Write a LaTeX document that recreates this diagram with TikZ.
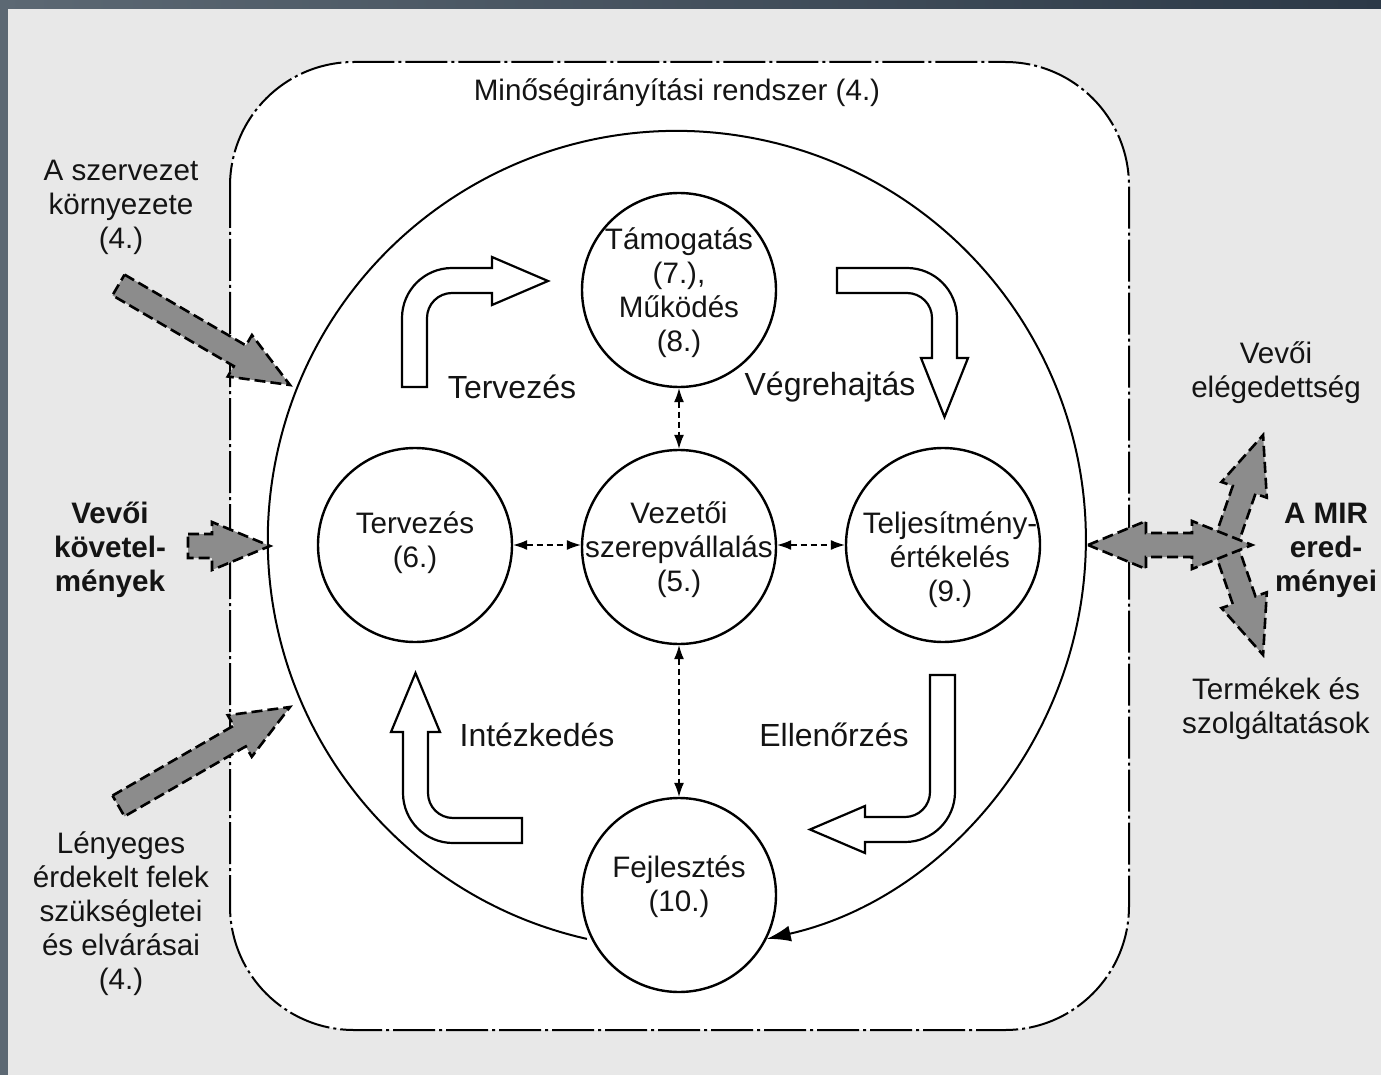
\documentclass[tikz,border=0pt]{standalone}
\usepackage{fontspec}
\setmainfont{Liberation Sans}
\usetikzlibrary{arrows.meta}
\definecolor{bgc}{RGB}{232,232,232}
\definecolor{frameA}{RGB}{92,104,115}
\definecolor{frameB}{RGB}{44,57,71}
\definecolor{agray}{RGB}{140,140,140}
\definecolor{txt}{RGB}{20,20,20}
\newcommand\GArrow[3]{\draw[garrow, shift={#1}, rotate=#2] (0,-12) -- ({#3-58},-12) -- ({#3-58},-24) -- (#3,0) -- ({#3-58},24) -- ({#3-58},12) -- (0,12) -- cycle;}
\tikzset{
  every node/.style={font=\fontsize{14.8pt}{17pt}\selectfont, align=center, inner sep=0pt, text=txt},
  circ/.style={circle, draw, line width=1.2pt, fill=white, minimum size=97pt, inner sep=0pt},
  blockarrow/.style={draw, fill=white, line width=1.1pt, line join=miter},
  garrow/.style={draw, fill=agray, line width=1.3pt, dash pattern=on 5.5pt off 2.5pt, line join=miter},
  dasharr/.style={line width=0.6pt, dash pattern=on 3pt off 2pt, {Latex[length=7pt,width=5pt]}-{Latex[length=7pt,width=5pt]}},
  mir/.style={draw, line width=1pt, dash pattern=on 21pt off 2pt on 1.5pt off 2pt, fill=white, rounded corners=62pt},
  lbl/.style={font=\fontsize{16pt}{19pt}\selectfont},
  boldtxt/.style={font=\fontsize{14.8pt}{17pt}\selectfont\bfseries}
}
\begin{document}
\begin{tikzpicture}[x=0.5pt,y=-0.5pt]
\useasboundingbox (0,0) rectangle (1381,1075);
% background and frame
\fill[bgc] (0,0) rectangle (1381,1075);
\shade[left color=frameA, right color=frameB] (0,0) rectangle (1381,9);
\fill[frameA] (0,0) rectangle (8,1075);
% quality management system boundary
\draw[mir] (230,62) rectangle (1129,1030);
\node (title) at (677,93) {Minőségirányítási rendszer (4.)};
% big cycle
\node[circle, minimum size=409pt, inner sep=0pt] (bigc) at (679,540) {};
\draw[line width=1pt, -{Latex[length=12pt,width=8pt]}] (bigc.257.3) arc[start angle=257.3, end angle=-77.3, radius=204.5pt];
% circles
\node[circ] (c7) at (679,290) {};
\node[circ] (c6) at (415,545) {};
\node[circ] (c5) at (679,547) {};
\node[circ] (c9) at (943,545) {};
\node[circ] (c10) at (679,895) {};
\node (t7) at (679,293) {Támogatás\\(7.),\\Működés\\(8.)};
\node (t6) at (415,543) {Tervezés\\(6.)};
\node (t5) at (679,550) {Vezetői\\szerepvállalás\\(5.)};
\node (t9) at (950,560) {Teljesítmény-\\értékelés\\(9.)};
\node (t10) at (679,887) {Fejlesztés\\(10.)};
% dashed double arrows
\draw[dasharr] (c6.east) -- (c5.west |- c6.east);
\draw[dasharr] (c5.east |- c9.west) -- (c9.west);
\draw[dasharr] (c7.south) -- (c5.north);
\draw[dasharr] (c5.south) -- (c10.north);
% block arrows
\draw[blockarrow] (402,387) -- (402,318) arc[start angle=180, end angle=90, radius=25pt] -- (492,268) -- (492,257) -- (548,281) -- (492,305) -- (492,293) -- (452,293) arc[start angle=90, end angle=180, radius=12.5pt] -- (427,387) -- cycle;
\draw[blockarrow] (837,268) -- (907,268) arc[start angle=90, end angle=0, radius=25pt] -- (957,358) -- (968,358) -- (944.5,417) -- (921,358) -- (932,358) -- (932,318) arc[start angle=0, end angle=90, radius=12.5pt] -- (837,293) -- cycle;
\draw[blockarrow] (930,675) -- (955,675) -- (955,792) arc[start angle=0, end angle=-90, radius=25pt] -- (865,842) -- (865,853) -- (810,829.5) -- (865,806) -- (865,817) -- (905,817) arc[start angle=-90, end angle=0, radius=12.5pt] -- cycle;
\draw[blockarrow] (522,818) -- (522,843) -- (453,843) arc[start angle=270, end angle=180, radius=25pt] -- (403,732) -- (391,732) -- (415.5,673) -- (440,732) -- (428,732) -- (428,793) arc[start angle=180, end angle=270, radius=12.5pt] -- cycle;
\node[lbl] (lterv) at (512,387) {Tervezés};
\node[lbl] (lvegr) at (830,387) {Végrehajtás};
\node[lbl] (linte) at (537,735) {Intézkedés};
\node[lbl] (lelle) at (834,735) {Ellenőrzés};
% gray input arrows
\GArrow{(118.5,285)}{-30.25}{198.5}
\GArrow{(118.5,806)}{30}{198}
\GArrow{(188,546)}{0}{82}
% output arrows
\GArrow{(1225,545)}{70.9}{116.4}
\GArrow{(1225,545)}{-70.9}{116.4}
\draw[garrow] (1088,545) -- (1146,521) -- (1146,533) -- (1192,533) -- (1192,521) -- (1252,545) -- (1192,569) -- (1192,557) -- (1146,557) -- (1146,569) -- cycle;
% outside texts
\node (env) at (121,207) {A szervezet\\környezete\\(4.)};
\node[boldtxt] (req) at (110,550) {Vevői\\követel-\\mények};
\node (parties) at (121,914) {Lényeges\\érdekelt felek\\szükségletei\\és elvárásai\\(4.)};
\node (sat) at (1276,373) {Vevői\\elégedettség};
\node[boldtxt] (res) at (1326,550) {A MIR\\ered-\\ményei};
\node (prod) at (1276,709) {Termékek és\\szolgáltatások};
\end{tikzpicture}
\end{document}
